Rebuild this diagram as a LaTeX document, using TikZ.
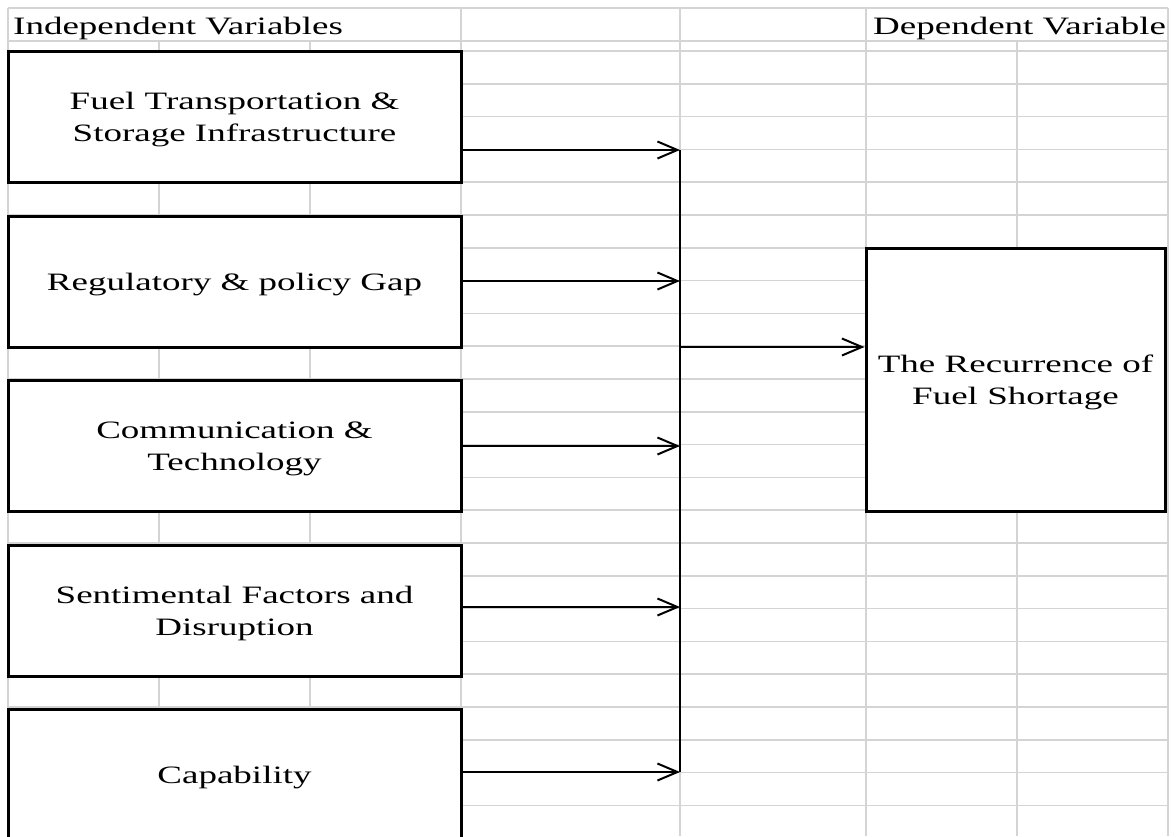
\documentclass[tikz,border=0pt]{standalone}
\usepackage{fontspec}
\setmainfont{Liberation Serif}[FakeStretch=1.48]
\usepackage{xcolor}
\usepackage{tikz}
\usetikzlibrary{
  arrows.meta
}
\definecolor{gridgrey}{HTML}{D4D4D4}
\newcommand{\cellfont}{\fontsize{25}{32}\selectfont}

\begin{document}
\begin{tikzpicture}[
    x=1pt, y=-1pt,
    gridline/.style={draw=gridgrey, line width=1.6pt},
    varbox/.style={draw, line width=3pt, fill=white, align=center,
      inner sep=0pt, text depth=-3pt, font=\cellfont},
    link/.style={line width=2pt},
    feed/.style={link, -{Straight Barb[length=20pt,width=17pt]}}
  ]
  \useasboundingbox (0,0) rectangle (1176,836);
  \clip (0,0) rectangle (1176,836);

  % sheet grid
  \draw[gridline] (8,8) -- (1168,8);
  \draw[gridline] (8,41) -- (1168,41);
  \foreach \k in {0,...,24}
    \draw[gridline] (8,{51+32.8*\k}) -- (1168,{51+32.8*\k});
  \foreach \x in {8,461,680,866,1168}
    \draw[gridline] (\x,8) -- (\x,836);
  \foreach \x in {159,310,1017}
    \draw[gridline] (\x,41) -- (\x,836);

  % headings
  \node[anchor=base west, inner sep=0pt, font=\cellfont] (indep) at (13,34) {Independent Variables};
  \node[anchor=base west, inner sep=0pt, font=\cellfont] (dep) at (873,34) {Dependent Variable};

  % independent variables
  \foreach \nm/\yc/\lab in {
      fuel/117/{Fuel Transportation \&\\Storage Infrastructure},
      policy/281.5/{Regulatory \& policy Gap},
      comm/446/{Communication \&\\Technology},
      sentiment/610.5/{Sentimental Factors and\\Disruption},
      capability/774.5/{Capability}} {
    \node[varbox, minimum width=453pt, minimum height=131pt] (\nm) at (234.5,\yc) {\lab};
  }

  % dependent variable
  \node[varbox, minimum width=299pt, minimum height=263pt] (shortage) at (1015.5,379.5)
    {The Recurrence of\\Fuel Shortage};

  % connectors
  \coordinate (j1) at (680,150);
  \coordinate (j2) at (680,281);
  \coordinate (j3) at (680,446);
  \coordinate (j4) at (680,607);
  \coordinate (j5) at (680,772);
  \coordinate (jout) at (680,347);
  \draw[link] (j1) -- (j5);
  \draw[feed] (fuel.east |- j1) -- (j1);
  \draw[feed] (policy.east |- j2) -- (j2);
  \draw[feed] (comm.east |- j3) -- (j3);
  \draw[feed] (sentiment.east |- j4) -- (j4);
  \draw[feed] (capability.east |- j5) -- (j5);
  \draw[feed] (jout) -- (jout -| shortage.west);
\end{tikzpicture}
\end{document}
